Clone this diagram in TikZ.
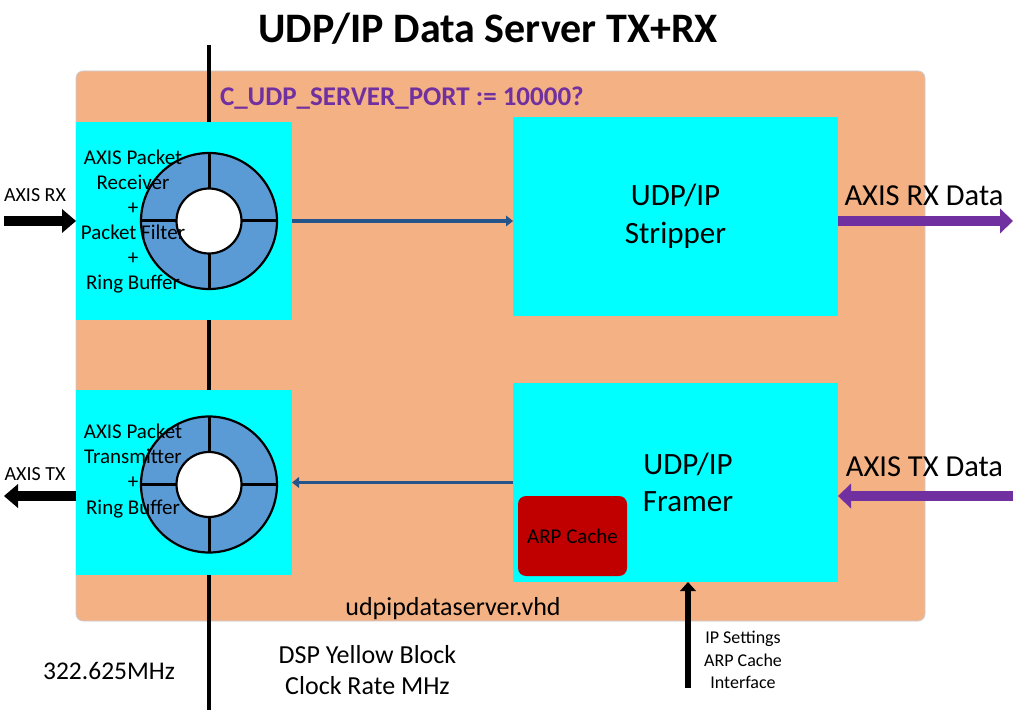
\documentclass[tikz,border=0pt]{standalone}
\usepackage{fontspec}
\setmainfont{Carlito}
\usetikzlibrary{arrows.meta}
\definecolor{blockorange}{HTML}{F4B183}
\definecolor{blockcyan}{HTML}{00FFFF}
\definecolor{ringblue}{HTML}{5B9BD5}
\definecolor{cachered}{HTML}{C00000}
\definecolor{portpurple}{HTML}{7030A0}
\definecolor{linknavy}{HTML}{25548A}
\newcommand{\fsz}[1]{\fontsize{#1}{1.22\dimexpr #1pt\relax}\selectfont}
\tikzset{
  box/.style={inner sep=0pt, outer sep=0pt, fill=blockcyan, minimum width=#1},
  lbl/.style={inner sep=0pt, outer sep=0pt, align=center, anchor=base},
  fatarrow/.style={line width=10pt, -{Triangle[width=24pt,length=14pt,line width=0pt]}},
  dataarrow/.style={portpurple, line width=10.5pt, -{Triangle[width=25pt,length=13pt,line width=0pt]}},
  linkarrow/.style={linknavy, line width=3.5pt, -{Triangle[width=11pt,length=7pt,line width=0pt]}},
  uparrow/.style={line width=6pt, -{Triangle[width=16pt,length=9pt,line width=0pt]}},
}
\begin{document}
\begin{tikzpicture}[x=1pt,y=-1pt]
\useasboundingbox (0,0) rectangle (1018,714);
% main block
\node[inner sep=0pt, outer sep=0pt, fill=blockorange, draw={rgb,255:red,205;green,205;blue,215}, line width=0.8pt,
      rounded corners=7pt, minimum width=849pt, minimum height=550pt] (main) at (500.5,346) {};
% clock domain line
\coordinate (clktop) at (209,45);
\coordinate (clkbot) at (209,710);
\draw[line width=3.3pt] (clktop) -- (clkbot);
% blocks
\node[box=216pt, minimum height=198pt] (rxbox) at (184,221) {};
\node[box=216pt, minimum height=185pt] (txbox) at (184,482.5) {};
\node[box=325pt, minimum height=199pt] (strip) at (675.5,216.5) {};
\node[box=325pt, minimum height=199pt] (framer) at (675.5,482.5) {};
\node[inner sep=0pt, outer sep=0pt, fill=cachered, rounded corners=8pt, minimum width=109pt, minimum height=80pt,
      font=\fsz{21}] (arp) at (572.5,536) {ARP Cache};
% rings
\foreach \cy in {221,484.5}{
  \fill[ringblue, even odd rule] (209,\cy) circle[radius=68pt] (209,\cy) circle[radius=32.5pt];
  \draw[line width=2.2pt] (209,\cy) circle[radius=68pt];
  \draw[line width=2.2pt, fill=white] (209,\cy) circle[radius=32.5pt];
  \draw[line width=3pt] (209,\cy-68) -- (209,\cy-32.5) (209,\cy+32.5) -- (209,\cy+68)
                        (141,\cy) -- (176.5,\cy) (241.5,\cy) -- (277,\cy);
}
% texts (multi-line nodes: base = baseline of last line)
\node[lbl, font=\bfseries\fsz{42}] (title) at (488,43) {UDP/IP Data Server TX+RX};
\node[lbl, anchor=base west, text=portpurple, font=\bfseries\fsz{27}] (port) at (220,106) {C\_UDP\_SERVER\_PORT := 10000?};
\node[lbl, font=\fontsize{21}{25.2}\selectfont] (rxtext) at (133,290) {AXIS Packet\\Receiver\\+\\Packet Filter\\+\\Ring Buffer};
\node[lbl, font=\fontsize{21}{25.3}\selectfont] (txtext) at (133,514) {AXIS Packet\\Transmitter\\+\\Ring Buffer};
\node[lbl, font=\fontsize{31}{37.3}\selectfont] (striptext) at (675.5,243.3) {UDP/IP\\Stripper};
\node[lbl, font=\fontsize{31}{36.7}\selectfont] (framertext) at (688,511) {UDP/IP\\Framer};
\node[lbl, font=\fsz{20}] (axisrx) at (35,201.7) {AXIS RX};
\node[lbl, font=\fsz{20}] (axistx) at (35,480) {AXIS TX};
\node[lbl, font=\fsz{30.5}] (rxdatatext) at (924,206) {AXIS RX Data};
\node[lbl, font=\fsz{30.5}] (txdatatext) at (924.5,476.7) {AXIS TX Data};
\node[lbl, font=\fsz{26}] (vhd) at (453,615) {udpipdataserver.vhd};
\node[lbl, font=\fsz{25.5}] (clk) at (109,679) {322.625MHz};
\node[lbl, font=\fontsize{26}{31}\selectfont] (dsp) at (367.5,694.3) {DSP Yellow Block\\Clock Rate MHz};
\node[lbl, font=\fontsize{18}{22.2}\selectfont] (ipset) at (743,688.3) {IP Settings\\ARP Cache\\Interface};
% connectors
\coordinate (rxin) at (4,221);
\coordinate (txout) at (4,496);
\coordinate (rxdata) at (1013,221);
\coordinate (txdata) at (1013,496);
\coordinate (ipsrc) at (688,688);
\draw[fatarrow] (rxin) -- (rxbox.west);
\draw[fatarrow] (txbox.west |- txout) -- (txout);
\draw[linkarrow] (rxbox.east) -- (rxbox.east -| strip.west);
\draw[linkarrow] (framer.west) -- (framer.west -| txbox.east);
\draw[dataarrow] (strip.east |- rxdata) -- (rxdata);
\draw[dataarrow] (txdata) -- (framer.east |- txdata);
\draw[uparrow] (ipsrc) -- (framer.south -| ipsrc);
\end{tikzpicture}
\end{document}
